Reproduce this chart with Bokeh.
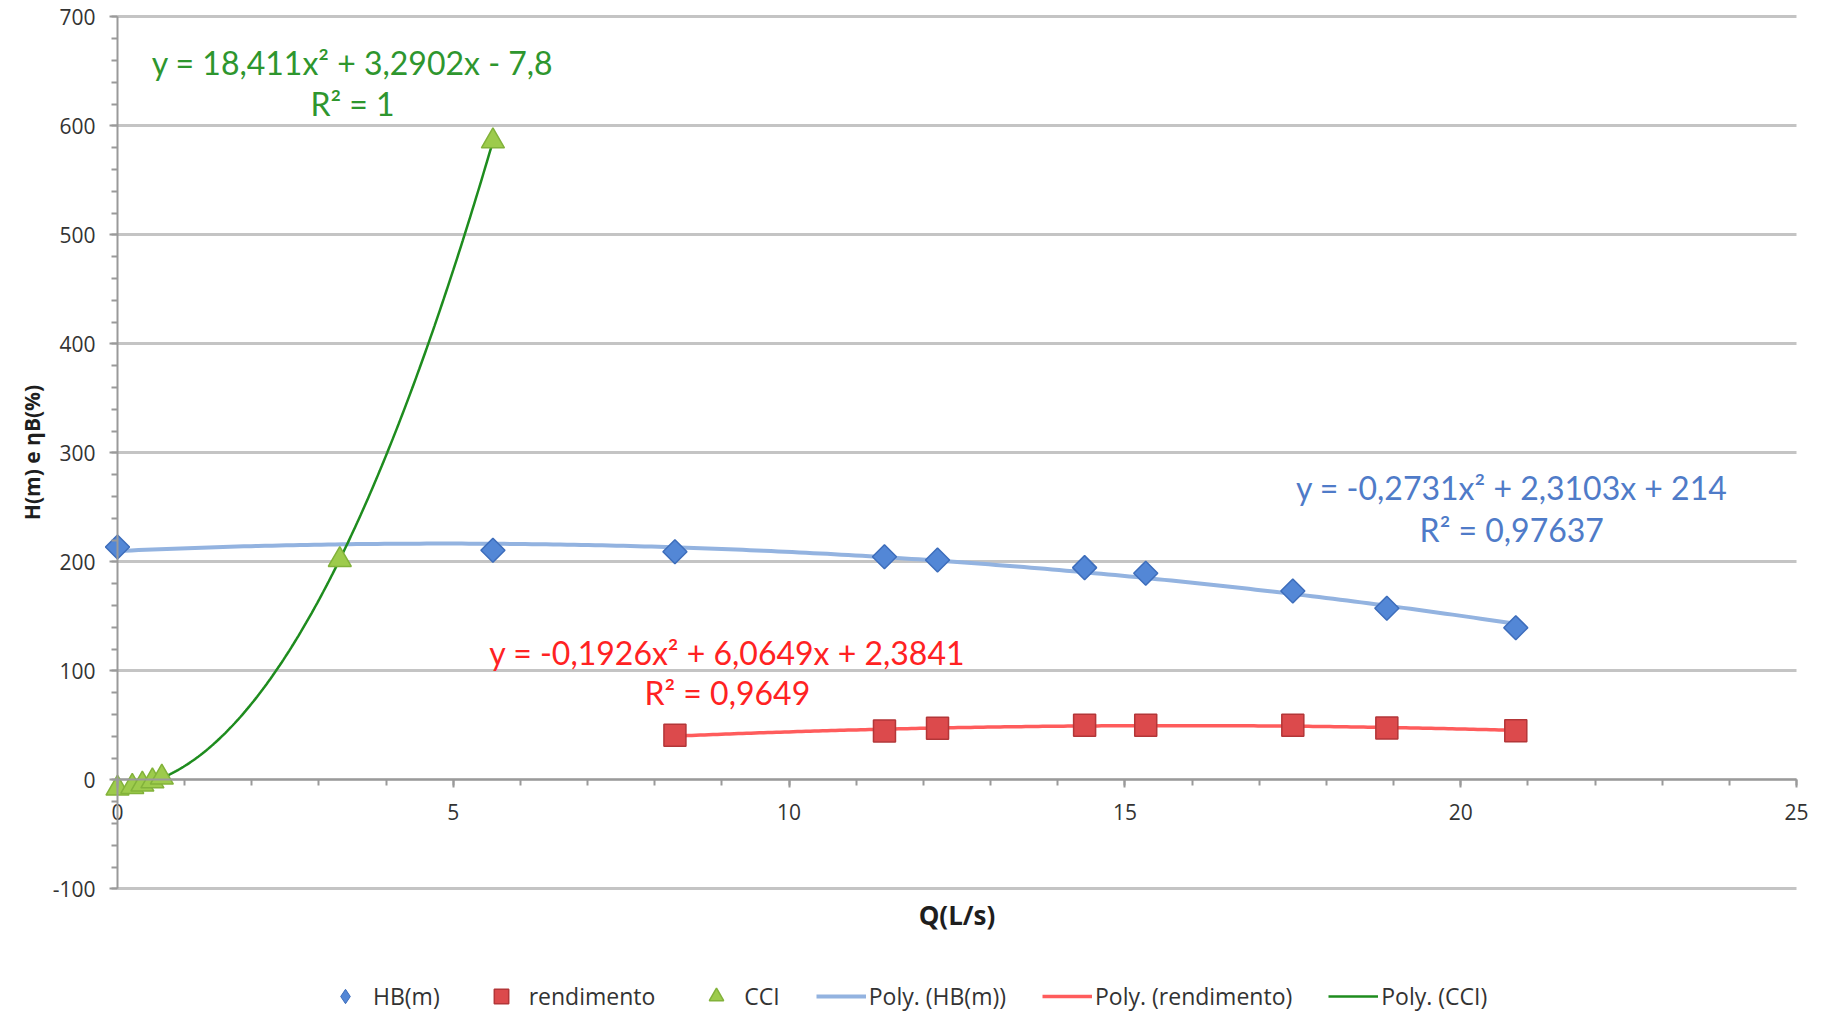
import numpy as np
from bokeh.plotting import figure
from bokeh.models import Label, Legend, LegendItem, FixedTicker, Range1d
from bokeh.embed import file_html
from bokeh.resources import INLINE

# ---------------- data ----------------
q_hb = [0.0, 5.59, 8.30, 11.42, 12.21, 14.40, 15.31, 17.50, 18.90, 20.82]
hb = [213.8, 210.7, 209.4, 204.8, 201.8, 194.8, 189.6, 173.4, 157.5, 139.7]

q_rend = [8.30, 11.42, 12.21, 14.40, 15.31, 17.50, 18.90, 20.82]
rend = [41.0, 45.0, 47.4, 50.2, 50.2, 50.2, 47.7, 45.2]

q_cci = [0.0, 0.22, 0.37, 0.52, 0.66, 3.31, 5.59]
cci = [-7.8, -6.2, -4.1, -1.1, 2.4, 202.0, 586.0]

series_names = ["HB(m)", "rendimento", "CCI"]
trend_names = ["Poly. (HB(m))", "Poly. (rendimento)", "Poly. (CCI)"]

eq_hb = ["y = -0,2731x² + 2,3103x + 214", "R² = 0,97637"]
eq_rend = ["y = -0,1926x² + 6,0649x + 2,3841", "R² = 0,9649"]
eq_cci = ["y = 18,411x² + 3,2902x - 7,8", "R² = 1"]

x_ticks = [0, 5, 10, 15, 20, 25]
x_minor = list(range(0, 26))
y_ticks = [-100, 0, 100, 200, 300, 400, 500, 600, 700]
y_minor = list(range(-100, 701, 20))
y_tick_text = {t: str(t) for t in y_ticks}

x_title = "Q(L/s)"
y_title = "H(m) e ηB(%)"

# ---------------- styles ----------------
C_HB_FILL, C_HB_LINE, C_HB_TREND, C_HB_TEXT = "#5387d6", "#3d6dbb", "#93b3e0", "#4f7bc8"
C_R_FILL, C_R_LINE, C_R_TREND, C_R_TEXT = "#dc4a4c", "#b33638", "#ff5c5c", "#ff2222"
C_C_FILL, C_C_LINE, C_C_TREND, C_C_TEXT = "#9dcb4c", "#82b23a", "#1e8c1e", "#2e962e"
AX_FONT = "Open Sans"
EQ_FONT = "Lato"


def trend(xs, ys):
    coef = np.polyfit(xs, ys, 2)
    xx = np.linspace(min(xs), max(xs), 200)
    return xx, np.polyval(coef, xx)


# the frame covers the whole canvas; axes are fixed at x=0 / y=0
p = figure(width=1821, height=1011,
           x_range=Range1d(-1.742, 25.372), y_range=Range1d(-212.4, 715.1),
           output_backend="svg", toolbar_location=None,
           min_border_left=0, min_border_right=0, min_border_top=0,
           min_border_bottom=0)
p.outline_line_color = None
p.background_fill_color = "white"

# grid
p.xgrid.visible = False
p.ygrid.ticker = FixedTicker(ticks=y_ticks)
p.ygrid.grid_line_color = "#c4c4c4"
p.ygrid.grid_line_width = 3
p.ygrid.cross_bounds = (0, 25)

# axes
p.xaxis.ticker = FixedTicker(ticks=x_ticks, minor_ticks=x_minor)
p.yaxis.ticker = FixedTicker(ticks=y_ticks, minor_ticks=y_minor)
p.yaxis.major_label_overrides = y_tick_text
p.xaxis.fixed_location = 0
p.yaxis.fixed_location = 0
p.xaxis.bounds = (0, 25)
p.yaxis.bounds = (-100, 700)
for ax in (p.xaxis, p.yaxis):
    ax.axis_line_color = "#9a9a9a"
    ax.axis_line_width = 2
    ax.major_tick_line_color = "#9a9a9a"
    ax.minor_tick_line_color = "#9a9a9a"
    ax.major_tick_line_width = 2
    ax.minor_tick_line_width = 2
    ax.major_tick_in = 0
    ax.minor_tick_in = 0
    ax.major_tick_out = 8
    ax.minor_tick_out = 6
    ax.major_label_text_font = AX_FONT
    ax.major_label_text_font_size = "21px"
    ax.major_label_text_color = "#333333"
    ax.axis_label_text_font = AX_FONT
    ax.axis_label_text_font_style = "bold"
    ax.axis_label_text_color = "#1e1e1e"
p.xaxis.major_label_standoff = 16
p.yaxis.major_label_standoff = 14
p.yaxis.axis_label = y_title
p.yaxis.axis_label_text_font_size = "21px"
p.yaxis.axis_label_standoff = 4
p.xaxis.axis_label = x_title
p.xaxis.axis_label_text_font_size = "26px"
p.xaxis.axis_label_standoff = 74

# trendlines
tx, ty = trend(q_hb, hb)
l_hb = p.line(tx, ty, line_color=C_HB_TREND, line_width=4)
tx, ty = trend(q_rend, rend)
l_r = p.line(tx, ty, line_color=C_R_TREND, line_width=3.5)
tx, ty = trend(q_cci, cci)
l_c = p.line(tx, ty, line_color=C_C_TREND, line_width=2.5)

# markers
m_hb = p.scatter(q_hb, hb, marker="square", angle=np.pi / 4, size=17,
                 fill_color=C_HB_FILL, line_color=C_HB_LINE, line_width=1.5)
m_r = p.scatter(q_rend, rend, marker="square", size=22,
                fill_color=C_R_FILL, line_color=C_R_LINE, line_width=1.5)
m_c = p.scatter(q_cci, cci, marker="triangle", size=23,
                fill_color=C_C_FILL, line_color=C_C_LINE, line_width=1.5)
# legend swatch for the diamonds (a NaN point, nothing drawn in the plot)
k_hb = p.scatter(x=[np.nan], y=[np.nan], marker="diamond", size=18,
                 fill_color=C_HB_FILL, line_color=C_HB_LINE, line_width=1)


# equations
def eq_labels(lines, x, y1, y2, color):
    for txt, yy in zip(lines, (y1, y2)):
        p.add_layout(Label(x=x, y=yy, text=txt, text_align="center",
                           text_baseline="middle", text_font=EQ_FONT,
                           text_font_size="32px", text_color=color))


eq_labels(eq_cci, 3.5, 658, 621, C_C_TEXT)
eq_labels(eq_rend, 9.08, 117, 80, C_R_TEXT)
eq_labels(eq_hb, 20.76, 268, 230, C_HB_TEXT)

legend = Legend(items=[
    LegendItem(label=series_names[0], renderers=[k_hb]),
    LegendItem(label=series_names[1], renderers=[m_r]),
    LegendItem(label=series_names[2], renderers=[m_c]),
    LegendItem(label=trend_names[0], renderers=[l_hb]),
    LegendItem(label=trend_names[1], renderers=[l_r]),
    LegendItem(label=trend_names[2], renderers=[l_c]),
], orientation="horizontal", location=(320, -3))
legend.label_text_font = AX_FONT
legend.label_text_font_size = "23px"
legend.label_text_color = "#333333"
legend.border_line_color = None
legend.background_fill_alpha = 0
legend.glyph_width = 50
legend.glyph_height = 36
legend.label_standoff = 3
legend.spacing = 36
legend.padding = 0
legend.margin = 0
p.add_layout(legend)

open("out.html", "w").write(file_html(p, INLINE))
